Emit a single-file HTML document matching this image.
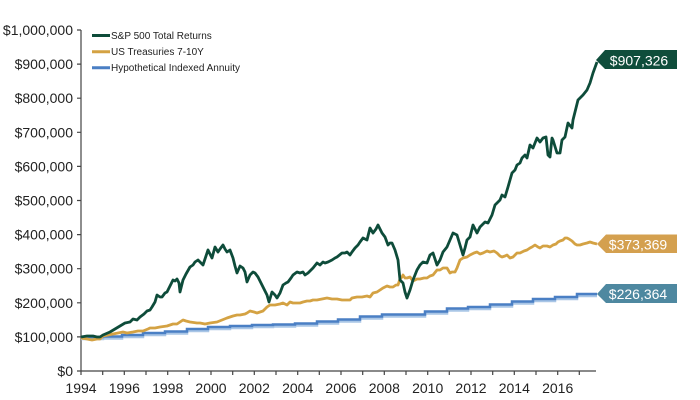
<!DOCTYPE html>
<html><head><meta charset="utf-8"><style>
html,body{margin:0;padding:0;background:#fff;}
svg{display:block;}
text{font-family:"Liberation Sans",Arial,sans-serif;}
</style></head><body>
<svg width="700" height="400" viewBox="0 0 700 400" xmlns="http://www.w3.org/2000/svg">
<rect width="700" height="400" fill="#fff"/>
<!-- axes -->
<g stroke="#444" stroke-width="1.2" fill="none">
<line x1="81" y1="30" x2="81" y2="371.5"/>
<line x1="81" y1="371" x2="596" y2="371"/>
<path d="M77 371H81M77 336.9H81M77 302.8H81M77 268.7H81M77 234.6H81M77 200.5H81M77 166.4H81M77 132.3H81M77 98.2H81M77 64.1H81M77 30H81"/>
<path d="M81 371V375M102.7 371V375M124.3 371V375M146 371V375M167.7 371V375M189.3 371V375M211 371V375M232.7 371V375M254.3 371V375M276 371V375M297.7 371V375M319.3 371V375M341 371V375M362.7 371V375M384.3 371V375M406 371V375M427.7 371V375M449.3 371V375M471 371V375M492.7 371V375M514.3 371V375M536 371V375M557.7 371V375M579.3 371V375"/>
</g>
<g font-size="14" fill="#222" text-anchor="end">
<text x="73" y="376">$0</text>
<text x="73" y="341.9">$100,000</text>
<text x="73" y="307.8">$200,000</text>
<text x="73" y="273.7">$300,000</text>
<text x="73" y="239.6">$400,000</text>
<text x="73" y="205.5">$500,000</text>
<text x="73" y="171.4">$600,000</text>
<text x="73" y="137.3">$700,000</text>
<text x="73" y="103.2">$800,000</text>
<text x="73" y="69.1">$900,000</text>
<text x="73" y="35">$1,000,000</text>
</g>
<g font-size="14" fill="#222" text-anchor="middle">
<text x="81" y="393">1994</text>
<text x="124.3" y="393">1996</text>
<text x="167.7" y="393">1998</text>
<text x="211" y="393">2000</text>
<text x="254.3" y="393">2002</text>
<text x="297.7" y="393">2004</text>
<text x="341" y="393">2006</text>
<text x="384.3" y="393">2008</text>
<text x="427.7" y="393">2010</text>
<text x="471" y="393">2012</text>
<text x="514.3" y="393">2014</text>
<text x="557.7" y="393">2016</text>
</g>
<!-- annuity -->
<path d="M81 339H103V338.5H122V337H143V335H165V333.5H187V331H208V329H230V328H252V327H273V326.5H295V325.5H317V323.5H338V321.5H360V318.5H382V316.5H425V313.5H447V310.5H468V309H490V306.5H512V303.5H533V301H555V299H577V296H597" fill="none" stroke="#a9c6e6" stroke-width="2.5"/>
<path d="M81 337H103V336.5H122V335H143V333H165V331.5H187V329H208V327H230V326H252V325H273V324.5H295V323.5H317V321.5H338V319.5H360V316.5H382V314.5H425V311.5H447V308.5H468V307H490V304.5H512V301.5H533V299H555V297H577V294H597" fill="none" stroke="#4a7fc4" stroke-width="2.5"/>
<!-- treasuries -->
<polyline fill="none" stroke="#d4a243" stroke-width="2.8" stroke-linejoin="round" points="81,338 87,339 92,340 97,339 100,339 103,336 108,335 113,334 118,333 123,332 127,333 133,332 138,331 143,331 148,329 150,328 155,328 160,327 167,326 173,324 177,324 180,322 183,320 186,321 190,322 197,323 200,323 205,324 210,323 217,322 222,320 227,318 230,317 233,316 237,315 240,315 245,314 247,313 250,311 254,312 257,313 260,312 263,311 267,307 270,305 275,305 280,304 283,303 287,305 290,302 293,303 297,303 300,303 303,302 307,301 310,301 313,300 317,300 322,299 327,298 332,299 337,299 342,300 347,300 350,300 352,298 357,297 362,297 367,296 370,297 373,293 377,292 380,290 383,288 387,286 390,287 393,287 396,285 398,285 400,279 402,277 403,275 405,278 407,278 410,277 413,281 417,279 420,279 424,278 427,278 430,276 433,275 437,270 440,270 443,268 447,268 450,273 452,272 455,272 457,268 460,260 463,258 467,257 470,255 474,253 477,252 480,254 483,253 487,251 490,252 494,251 497,253 500,256 502,257 505,256 507,255 510,258 513,257 517,253 520,253 524,251 527,250 530,248 532,247 535,245 538,247 540,248 543,246 547,246 550,247 553,245 556,244 558,242 560,241 563,240 565,238 567,238 569,239 572,241 575,244 577,245 580,245 583,244 587,243 590,242 593,243 597,244"/>
<!-- S&P -->
<polyline fill="none" stroke="#0e4c3a" stroke-width="2.8" stroke-linejoin="round" points="81,337 87,336 93,336 97,337 100,337 103,335 110,332 115,329 120,326 125,323 130,322 133,319 137,320 140,317 144,314 147,311 150,310 152,307 155,302 157,295 160,297 162,297 165,293 167,292 170,286 173,280 175,281 177,279 179,283 180,292 183,280 186,274 190,267 193,265 195,262 198,260 201,263 203,265 206,256 208,250 210,254 212,258 215,247 218,252 220,249 223,245 225,249 227,252 230,250 233,258 235,266 237,273 240,266 243,268 245,272 247,282 250,275 253,272 255,273 258,277 260,281 263,287 265,291 267,295 269,302 272,292 275,295 277,298 280,293 283,285 286,283 288,282 291,278 293,275 297,272 300,273 303,272 305,275 308,273 311,270 313,268 317,263 320,265 323,262 325,263 328,262 332,260 335,258 337,257 342,253 345,253 347,252 350,255 352,252 355,248 358,245 360,242 363,238 365,239 367,240 370,228 373,233 376,229 378,225 380,229 382,233 385,237 388,245 390,243 392,243 395,250 398,260 400,280 403,283 405,292 407,298 410,290 413,280 417,270 420,265 423,262 427,263 430,255 433,253 437,265 440,260 443,252 447,247 450,240 453,233 457,235 460,245 463,255 465,248 467,240 470,237 473,225 477,233 480,227 485,222 488,223 492,215 495,205 500,200 502,195 505,197 508,187 512,173 515,170 517,165 520,163 522,158 525,155 527,158 530,145 533,148 537,138 540,142 543,138 546,137 548,155 550,157 552,138 553,140 557,153 560,153 562,140 565,137 568,123 572,128 573,120 578,100 583,95 587,90 590,83 593,73 597,62"/>
<!-- end labels -->
<polygon points="596,60 605,50 677,50 677,69 605,69" fill="#0f4d3b"/>
<text x="639" y="65.5" font-size="14" fill="#fff" text-anchor="middle">$907,326</text>
<polygon points="597,244 606,234.5 677,234.5 677,253 606,253" fill="#d4a04f"/>
<text x="638" y="249.5" font-size="14" fill="#fff" text-anchor="middle">$373,369</text>
<polygon points="597,294 606,284 677,284 677,303 606,303" fill="#4e88a0"/>
<text x="638" y="299" font-size="14" fill="#fff" text-anchor="middle">$226,364</text>
<!-- legend -->
<g stroke-width="3">
<line x1="92" y1="35.5" x2="110" y2="35.5" stroke="#0e4c3a"/>
<line x1="92" y1="51.7" x2="110" y2="51.7" stroke="#d4a243"/>
<line x1="92" y1="67.7" x2="110" y2="67.7" stroke="#4a7fc4"/>
</g>
<g font-size="10" fill="#222">
<text x="111" y="39">S&amp;P 500 Total Returns</text>
<text x="111" y="55.2">US Treasuries 7-10Y</text>
<text x="111" y="71.2">Hypothetical Indexed Annuity</text>
</g>
</svg>
</body></html>
